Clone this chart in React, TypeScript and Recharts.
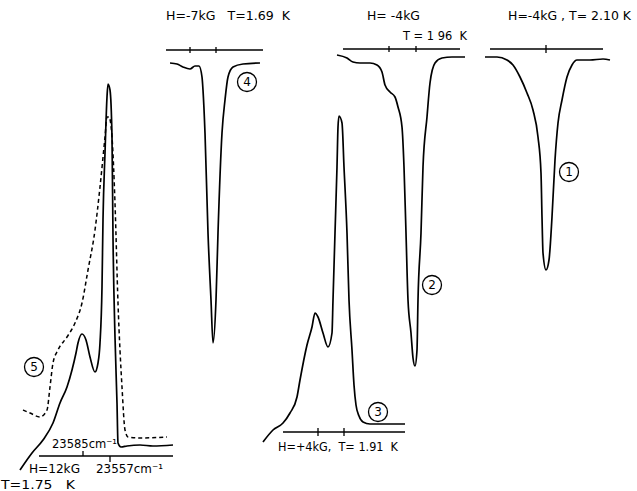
import React from "react";
import {LineChart, Line, XAxis, YAxis, ReferenceLine, ReferenceDot} from "recharts";

// all values, in the figure's own frame (x right, y down)
const curve1 = [
    {x: 485, y: 57}, {x: 497, y: 57}, {x: 507, y: 60}, {x: 513, y: 65}, {x: 520, y: 77},
    {x: 527, y: 93}, {x: 533, y: 110}, {x: 538, y: 137}, {x: 541, y: 173}, {x: 542, y: 217},
    {x: 543, y: 253}, {x: 546, y: 270}, {x: 549, y: 260}, {x: 552, y: 217}, {x: 555, y: 160},
    {x: 558, y: 123}, {x: 562, y: 100}, {x: 567, y: 77}, {x: 572, y: 65}, {x: 577, y: 60},
    {x: 590, y: 60}, {x: 603, y: 59}, {x: 610, y: 60},
];

const curve2 = [
    {x: 337, y: 55}, {x: 347, y: 58}, {x: 353, y: 62}, {x: 360, y: 63}, {x: 370, y: 63},
    {x: 377, y: 65}, {x: 382, y: 72}, {x: 385, y: 85}, {x: 390, y: 92}, {x: 395, y: 97},
    {x: 398, y: 107}, {x: 402, y: 127}, {x: 404, y: 167}, {x: 406, y: 233}, {x: 408, y: 300},
    {x: 411, y: 333}, {x: 413, y: 358}, {x: 415, y: 366}, {x: 417, y: 350}, {x: 418, y: 300},
    {x: 421, y: 233}, {x: 423, y: 167}, {x: 427, y: 117}, {x: 430, y: 83}, {x: 435, y: 63},
    {x: 442, y: 58}, {x: 452, y: 57}, {x: 465, y: 57},
];

const curve3 = [
    {x: 263, y: 442}, {x: 273, y: 430}, {x: 283, y: 423}, {x: 290, y: 413}, {x: 297, y: 397},
    {x: 300, y: 380}, {x: 307, y: 345}, {x: 312, y: 327}, {x: 315, y: 313}, {x: 318, y: 317},
    {x: 323, y: 333}, {x: 328, y: 347}, {x: 332, y: 333}, {x: 333, y: 300}, {x: 335, y: 233},
    {x: 337, y: 167}, {x: 338, y: 127}, {x: 339, y: 116}, {x: 342, y: 123}, {x: 344, y: 167},
    {x: 347, y: 233}, {x: 349, y: 300}, {x: 352, y: 350}, {x: 354, y: 385}, {x: 356, y: 405},
    {x: 359, y: 416}, {x: 363, y: 422}, {x: 370, y: 424}, {x: 405, y: 424},
];

const curve4 = [
    {x: 170, y: 63}, {x: 177, y: 64}, {x: 183, y: 67}, {x: 190, y: 69}, {x: 195, y: 66},
    {x: 199, y: 66}, {x: 202, y: 77}, {x: 203, y: 90}, {x: 205, y: 133}, {x: 208, y: 233},
    {x: 211, y: 300}, {x: 213, y: 343}, {x: 216, y: 300}, {x: 218, y: 233}, {x: 222, y: 133},
    {x: 225, y: 100}, {x: 228, y: 77}, {x: 233, y: 67}, {x: 243, y: 64}, {x: 260, y: 63},
];

const curve5 = [
    {x: 20, y: 470}, {x: 32, y: 453}, {x: 43, y: 440}, {x: 53, y: 423}, {x: 60, y: 403},
    {x: 67, y: 387}, {x: 72, y: 370}, {x: 76, y: 353}, {x: 78, y: 343}, {x: 82, y: 334},
    {x: 86, y: 340}, {x: 90, y: 357}, {x: 95, y: 372}, {x: 98, y: 363}, {x: 100, y: 343},
    {x: 102, y: 287}, {x: 103, y: 220}, {x: 105, y: 153}, {x: 107, y: 97}, {x: 108, y: 84},
    {x: 110, y: 90}, {x: 112, y: 137}, {x: 113, y: 237}, {x: 115, y: 337}, {x: 117, y: 403},
    {x: 118, y: 443}, {x: 121, y: 447}, {x: 127, y: 446}, {x: 140, y: 445}, {x: 153, y: 446},
    {x: 173, y: 445},
];

const curve5Dashed = [
    {x: 23, y: 410}, {x: 30, y: 413}, {x: 40, y: 417}, {x: 47, y: 410}, {x: 50, y: 387},
    {x: 53, y: 363}, {x: 58, y: 350}, {x: 67, y: 337}, {x: 75, y: 323}, {x: 82, y: 303},
    {x: 88, y: 270}, {x: 95, y: 230}, {x: 100, y: 187}, {x: 105, y: 137}, {x: 107, y: 117},
    {x: 109, y: 117}, {x: 112, y: 137}, {x: 115, y: 203}, {x: 118, y: 303}, {x: 122, y: 387},
    {x: 125, y: 430}, {x: 128, y: 437}, {x: 140, y: 438}, {x: 167, y: 437},
];

// baseline of each trace: [x from, x to, y]
const baselines = [
    [490, 603, 49],
    [343, 460, 49],
    [283, 405, 432],
    [166, 263, 50],
    [39, 173, 456],
];

// tick marks: [x, y top, y bottom]
const ticks = [
    [546, 45, 53],
    [389, 46, 52], [416, 46, 52],
    [318, 428, 436], [344, 428, 436],
    [190, 47, 53], [216, 47, 53],
    [83, 451, 456], [110, 456, 462],
];

const circleLabels = [
    {x: 569, y: 172, n: "1"},
    {x: 432, y: 285, n: "2"},
    {x: 378, y: 412, n: "3"},
    {x: 247, y: 82, n: "4"},
    {x: 34, y: 367, n: "5"},
];

// label text: left x, baseline y, drawn width, size
const texts = [
    {x: 166, y: 20, w: 124, f: 13, s: "H=-7kG   T=1.69  K"},
    {x: 367, y: 20, w: 53, f: 13, s: "H= -4kG"},
    {x: 403, y: 40, w: 64, f: 13, s: "T = 1 96  K"},
    {x: 508, y: 20, w: 123, f: 12, s: "H=-4kG , T= 2.10 K"},
    {x: 278, y: 451, w: 120, f: 13, s: "H=+4kG,  T= 1.91  K"},
    {x: 52, y: 448, w: 65, f: 13, s: "23585cm⁻¹"},
    {x: 29, y: 473, w: 51, f: 13, s: "H=12kG"},
    {x: 96, y: 473, w: 67, f: 13, s: "23557cm⁻¹"},
    {x: 1, y: 489, w: 74, f: 13, s: "T=1.75   K"},
];

const font = "'DejaVu Sans', sans-serif";

export default function App() {
    return <div style={{position: "absolute", left: 0, top: 0, background: "#fff"}}>
        <LineChart width={637} height={491} margin={{top: 0, right: 0, left: 0, bottom: 0}}>
            <XAxis type="number" dataKey="x" domain={[0, 637]} hide allowDataOverflow />
            <YAxis type="number" dataKey="y" domain={[0, 491]} reversed hide allowDataOverflow />
            {baselines.map(([x1, x2, y], i) =>
                <ReferenceLine key={"b" + i} segment={[{x: x1, y}, {x: x2, y}]} stroke="#000" strokeWidth={1.3} />
            )}
            {ticks.map(([x, y1, y2], i) =>
                <ReferenceLine key={"t" + i} segment={[{x, y: y1}, {x, y: y2}]} stroke="#000" strokeWidth={1.3} />
            )}
            <Line data={curve1} dataKey="y" type="monotone" stroke="#000" strokeWidth={1.7}
                  dot={false} activeDot={false} isAnimationActive={false} />
            <Line data={curve2} dataKey="y" type="monotone" stroke="#000" strokeWidth={1.7}
                  dot={false} activeDot={false} isAnimationActive={false} />
            <Line data={curve3} dataKey="y" type="monotone" stroke="#000" strokeWidth={1.7}
                  dot={false} activeDot={false} isAnimationActive={false} />
            <Line data={curve4} dataKey="y" type="monotone" stroke="#000" strokeWidth={1.7}
                  dot={false} activeDot={false} isAnimationActive={false} />
            <Line data={curve5} dataKey="y" type="monotone" stroke="#000" strokeWidth={1.7}
                  dot={false} activeDot={false} isAnimationActive={false} />
            <Line data={curve5Dashed} dataKey="y" type="monotone" stroke="#000" strokeWidth={1.5}
                  strokeDasharray="4 3" dot={false} activeDot={false} isAnimationActive={false} />
            {circleLabels.map(c =>
                <ReferenceDot key={"c" + c.n} x={c.x} y={c.y} r={9.5} fill="#fff" stroke="#000" strokeWidth={1.3}
                              label={{value: c.n, position: "center", fill: "#000", fontSize: 12, fontFamily: font}} />
            )}
            {texts.map((t, i) =>
                <text key={"l" + i} x={t.x} y={t.y} textLength={t.w} lengthAdjust="spacingAndGlyphs"
                      fontSize={t.f} fontFamily={font} fill="#000" style={{whiteSpace: "pre"}}>{t.s}</text>
            )}
        </LineChart>
    </div>;
}
